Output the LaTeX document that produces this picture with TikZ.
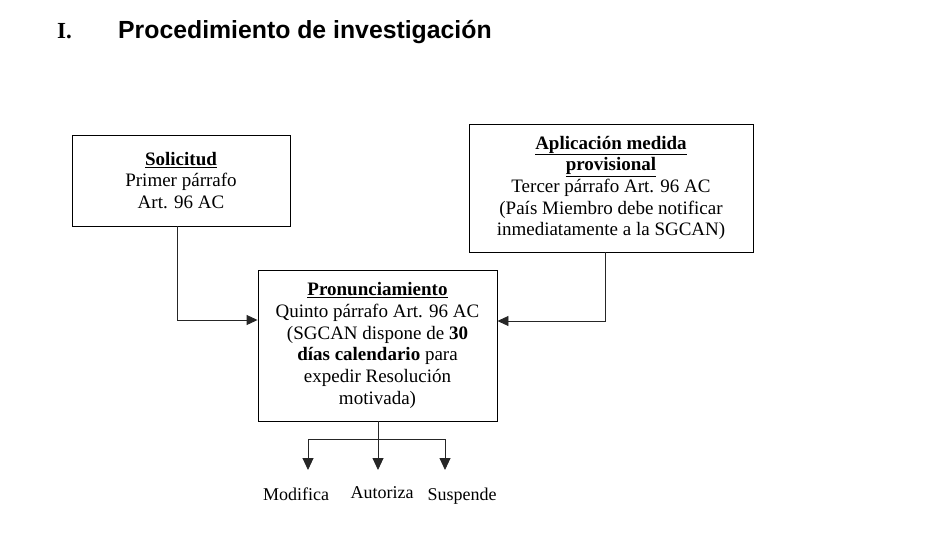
\documentclass[tikz,border=0pt]{standalone}
\usepackage{fontspec}
\setmainfont{Liberation Serif}
\newfontfamily\arialfont{Liberation Sans}
\usetikzlibrary{arrows.meta}
\tikzset{
  box/.style={draw=black, line width=0.9pt, align=center, inner sep=0pt,
    font=\fontsize{19}{21.7}\selectfont},
  conn/.style={draw=black!85, line width=0.9pt, -{Triangle[length=11pt,width=10pt]}},
  dconn/.style={draw=black!85, line width=0.9pt, -{Triangle[length=12pt,width=11pt]}},
  plain/.style={draw=black!85, line width=0.9pt},
  lab/.style={font=\fontsize{18}{20}\selectfont, inner sep=0pt, anchor=base},
  ttl/.style={inner sep=0pt, anchor=base west}
}
\begin{document}
\begin{tikzpicture}[x=1pt,y=-1pt]
\useasboundingbox (0,0) rectangle (926,536);
% title
\node[ttl, font=\fontsize{23}{26}\selectfont\bfseries] (tnum) at (57,38) {I.};
\node[ttl, font=\arialfont\fontsize{24.8}{28}\selectfont\bfseries] (ttext) at (118,38) {Procedimiento de investigación};
% boxes
\node[box, minimum width=218pt, minimum height=91pt] (sol) at (181,180.5)
  {\textbf{\underline{Solicitud}}\\Primer párrafo\\Art. 96 AC};
\node[box, minimum width=284pt, minimum height=128pt] (apl) at (611,188)
  {\textbf{\underline{Aplicación medida}}\\\textbf{\underline{provisional}}\\Tercer párrafo Art. 96 AC\\(País Miembro debe notificar\\inmediatamente a la SGCAN)};
\node[box, minimum width=239pt, minimum height=151pt] (pro) at (377.5,345.5)
  {\textbf{\underline{Pronunciamiento}}\\Quinto párrafo Art. 96 AC\\(SGCAN dispone de \textbf{30}\\\textbf{días calendario} para\\expedir Resolución\\motivada)};
% connectors into Pronunciamiento
\draw[conn] ([xshift=-4pt]sol.south) |- ([yshift=25.5pt]pro.west);
\draw[conn] ([xshift=-6pt]apl.south) |- ([yshift=24.5pt]pro.east);
% branching below
\coordinate (jn) at (378,439);
\coordinate (jl) at (308,439);
\coordinate (jr) at (445,439);
\coordinate (em) at (308,470);
\coordinate (ea) at (378,470);
\coordinate (es) at (445,470);
\draw[plain] (pro.south -| jn) -- (jn);
\draw[plain] (jl) -- (jr);
\draw[dconn] (jl) -- (em);
\draw[dconn] (jn) -- (ea);
\draw[dconn] (jr) -- (es);
% labels
\node[lab] (mod) at (296,500.5) {Modifica};
\node[lab] (aut) at (382,498) {Autoriza};
\node[lab] (sus) at (462,500.5) {Suspende};
\end{tikzpicture}
\end{document}
